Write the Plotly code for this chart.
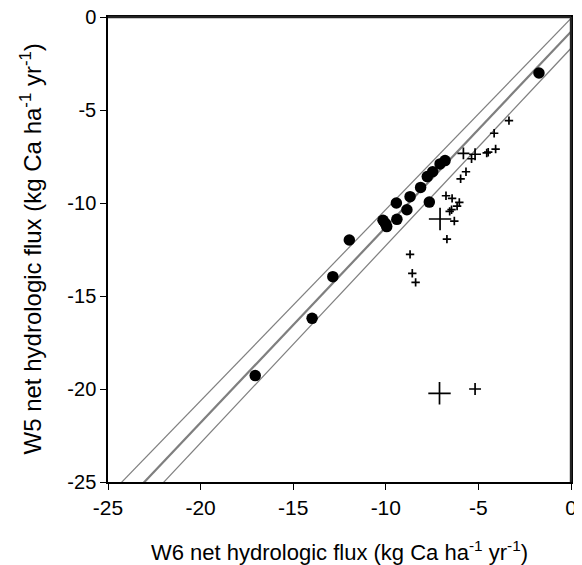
import plotly.graph_objects as go

# Filled circles (W6 vs W5)
circ_x = [-17.05, -13.98, -12.86, -11.97, -10.15, -9.95, -10.02, -9.40, -9.43, -8.86,
          -8.69, -8.12, -7.76, -7.47, -7.65, -7.07, -6.80, -1.73]
circ_y = [-19.28, -16.20, -13.96, -11.99, -10.93, -11.27, -11.10, -10.88, -10.00, -10.36,
          -9.66, -9.16, -8.58, -8.32, -9.95, -7.90, -7.72, -3.01]

# Small crosses
small_x = [-3.35, -4.15, -4.07, -4.47, -4.55, -5.37, -5.67, -5.96, -6.75, -6.42,
           -6.03, -6.15, -6.45, -6.55, -6.30, -6.70, -8.69, -8.57, -8.39]
small_y = [-5.57, -6.25, -7.10, -7.27, -7.31, -7.62, -8.32, -8.70, -9.61, -9.75,
           -9.97, -10.17, -10.36, -10.45, -10.97, -11.94, -12.76, -13.78, -14.27]

# Medium crosses
med_x = [-5.81, -5.18, -5.18]
med_y = [-7.33, -7.38, -20.00]

# Large crosses
large_x = [-7.07, -7.10]
large_y = [-10.86, -20.23]

# Regression line and bounds: intercepts and slopes
fit_intercepts = [-0.07, -0.79, -1.68]
fit_slopes = [1.028, 1.051, 1.061]
fit_widths = [1.2, 2.2, 1.2]

x_range = [-25, 0]
y_range = [-25, 0]
tick_vals = [-25, -20, -15, -10, -5, 0]
tick_text = ["-25", "-20", "-15", "-10", "-5", "0"]

x_title = "W6 net hydrologic flux (kg Ca ha<sup>-1</sup> yr<sup>-1</sup>)"
y_title = "W5 net hydrologic flux (kg Ca ha<sup>-1</sup> yr<sup>-1</sup>)"

FONT = "Liberation Sans, Arial"

fig = go.Figure()

for a, b, w in zip(fit_intercepts, fit_slopes, fit_widths):
    xs = [-30, 0]
    ys = [a + b * x for x in xs]
    fig.add_trace(go.Scatter(x=xs, y=ys, mode="lines",
                             line=dict(color="#7f7f7f", width=w),
                             hoverinfo="skip", showlegend=False))

fig.add_trace(go.Scatter(x=circ_x, y=circ_y, mode="markers",
                         marker=dict(symbol="circle", size=11.5, color="black"),
                         showlegend=False))

for xs, ys, s in [(small_x, small_y, 6.0), (med_x, med_y, 8.5), (large_x, large_y, 16)]:
    fig.add_trace(go.Scatter(x=xs, y=ys, mode="markers",
                             marker=dict(symbol="cross-thin", size=s,
                                         line=dict(color="black", width=1.7)),
                             showlegend=False))

axis_common = dict(
    showgrid=False, zeroline=False, showline=True, linecolor="black", linewidth=1.5,
    ticks="outside", ticklen=6, tickwidth=1.2, tickcolor="black",
    mirror=True, tickvals=tick_vals, ticktext=tick_text, automargin=False,
    ticklabeloverflow="allow",
)

fig.update_xaxes(range=x_range, **axis_common,
                 tickfont=dict(family=FONT, size=21, color="black"))
fig.update_yaxes(range=y_range, **axis_common,
                 tickfont=dict(family=FONT, size=20, color="black"))

# explicit plot frame (top and right edges)
fig.add_shape(type="line", xref="paper", yref="paper", x0=0, y0=1, x1=1, y1=1,
              line=dict(color="#222222", width=2.4), layer="above")
fig.add_shape(type="line", xref="paper", yref="paper", x0=1, y0=0, x1=1, y1=1,
              line=dict(color="#222222", width=2.4), layer="above")

fig.add_annotation(text=x_title, xref="paper", yref="paper", x=0.5, y=0,
                   xanchor="center", yanchor="middle", yshift=-69, showarrow=False,
                   font=dict(family=FONT, size=22, color="black"))
fig.add_annotation(text=y_title, xref="paper", yref="paper", x=0, y=0.5,
                   xanchor="center", yanchor="middle", xshift=-78, textangle=-90,
                   showarrow=False,
                   font=dict(family=FONT, size=24, color="black"))

# page body adds an 8px offset, so margins are reduced accordingly
fig.update_layout(
    width=582, height=565,
    margin=dict(l=100, r=19, t=9, b=91),
    plot_bgcolor="white", paper_bgcolor="white",
)

fig.write_html("out.html")
